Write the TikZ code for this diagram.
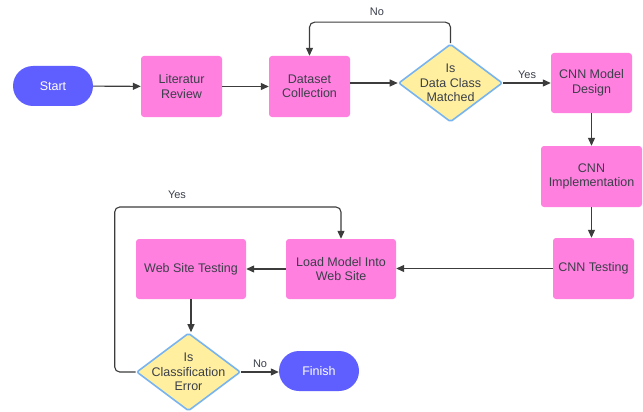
\documentclass[tikz,border=0pt]{standalone}
\usepackage{fontspec}
\setmainfont{Liberation Sans}
\usetikzlibrary{shapes.geometric,arrows.meta}
\definecolor{boxpink}{HTML}{FF80DF}
\definecolor{termblue}{HTML}{5F5FFF}
\definecolor{decyellow}{HTML}{FFEF9F}
\definecolor{decborder}{HTML}{78B4F0}
\definecolor{txtgray}{HTML}{3A3F4A}
\definecolor{linegray}{HTML}{3C3C3C}
\tikzset{
  procbox/.style={draw=none,fill=boxpink,rounded corners=3pt,align=center,
    text=txtgray,font=\fontsize{12.5}{14.5}\selectfont,inner sep=0pt},
  termbox/.style={draw=none,fill=termblue,rounded corners=20pt,align=center,
    text=white,font=\fontsize{12.5}{14.5}\selectfont,minimum width=80pt,minimum height=40pt,inner sep=0pt},
  decbox/.style={diamond,draw=decborder,line width=1.6pt,fill=decyellow,rounded corners=2pt,
    minimum width=104pt,minimum height=78pt,inner sep=0pt},
  dectext/.style={align=center,text=txtgray,font=\fontsize{12.5}{14.5}\selectfont},
  arr/.style={draw=linegray,line width=1.1pt,-{Triangle[length=8pt,width=7pt]}},
  edgelabel/.style={text=txtgray,font=\fontsize{11}{13}\selectfont,inner sep=1pt}
}
\begin{document}
\begin{tikzpicture}[x=1pt,y=-1pt]
\fill[white] (0,0) rectangle (643,412);
\useasboundingbox (0,0) rectangle (643,412);

\node[termbox] (start) at (53,86) {Start};
\node[procbox,minimum width=81pt,minimum height=61pt] (lit) at (181.5,86.5) {Literatur\\Review};
\node[procbox,minimum width=81pt,minimum height=61pt] (ds) at (309.5,86.5) {Dataset\\Collection};
\node[decbox] (d1) at (450.5,83) {};
\node[dectext] (d1t) at (d1.center) {Is\\Data Class\\Matched};
\node[procbox,minimum width=81pt,minimum height=60pt] (cmd) at (591.5,83) {CNN Model\\Design};
\node[procbox,minimum width=101pt,minimum height=61pt] (cim) at (591.5,176.5) {CNN\\Implementation};
\node[procbox,minimum width=81pt,minimum height=61pt] (cte) at (593.5,268.5) {CNN Testing};
\node[procbox,minimum width=110pt,minimum height=60pt] (lm) at (341,269) {Load Model Into\\Web Site};
\node[procbox,minimum width=110pt,minimum height=60pt] (wst) at (191,269) {Web Site Testing};
\node[decbox] (d2) at (188.5,372) {};
\node[dectext] (d2t) at (d2.center) {Is\\Classification\\Error};
\node[termbox] (fin) at (319,371) {Finish};

\draw[arr] (start) -- (lit);
\draw[arr] (lit) -- (ds);
\draw[arr] (ds.east |- d1.west) -- (d1.west);
\draw[arr] (d1.east) -- (cmd.west |- d1.east) node[edgelabel,midway,above=3pt] (lyes1) {Yes};
\draw[arr,rounded corners=5pt] (d1.north) -- ++(0,-21) -| (ds.north);
\node[edgelabel] (lno1) at (377,12) {No};
\draw[arr] (cmd.south) -- (cim.north);
\draw[arr] (cim.south) -- (cim.south |- cte.north);
\draw[arr] (cte.west) -- (lm.east |- cte.west);
\draw[arr] (lm.west) -- (wst.east |- lm.west);
\draw[arr] (wst.south) -- (wst.south |- d2.north);
\draw[arr] (d2.east) -- (fin.west |- d2.east) node[edgelabel,midway,above=3pt] (lno2) {No};
\draw[arr,rounded corners=5pt] (d2.west) -- ++(-21,0) |- (341,207) -- (lm.north);
\node[edgelabel] (lyes2) at (177,195) {Yes};
\end{tikzpicture}
\end{document}
